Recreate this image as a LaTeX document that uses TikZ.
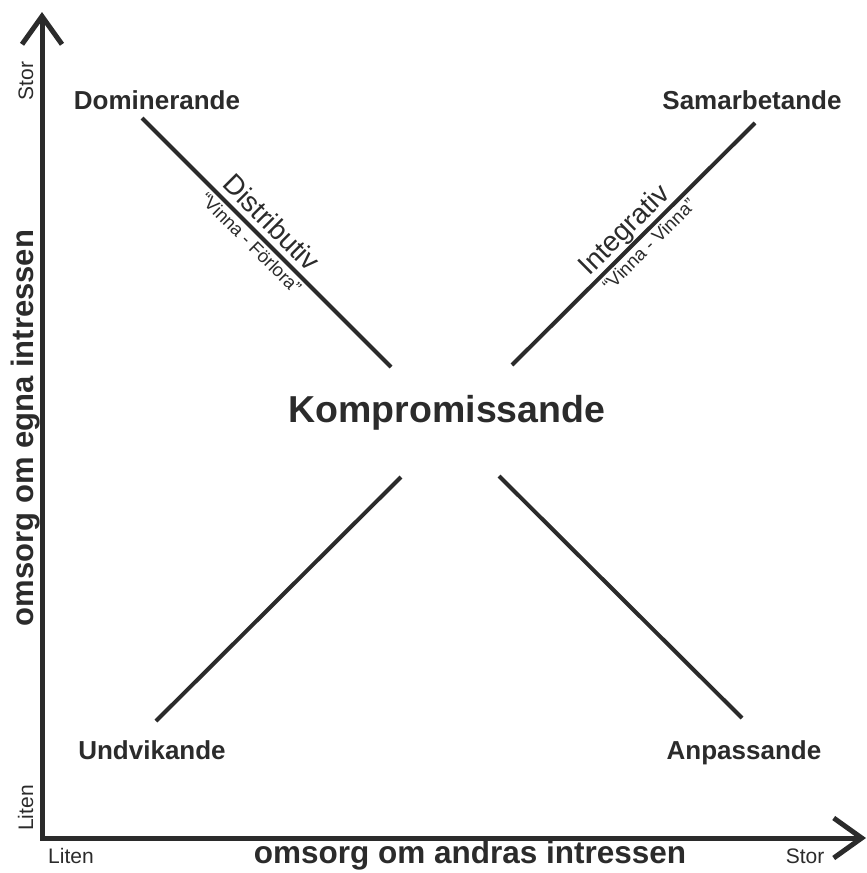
\documentclass[tikz,border=0pt]{standalone}
\usepackage{fontspec}
\setmainfont{Liberation Sans}
\usetikzlibrary{arrows.meta}
\definecolor{ink}{HTML}{2B2B2B}

\begin{document}
\begin{tikzpicture}[x=1pt, y=-1pt,
    every node/.style={inner sep=0pt, text=ink},
    corner/.style={anchor=base, font=\bfseries\fontsize{26}{31}\selectfont},
    axistitle/.style={anchor=base, font=\bfseries\fontsize{31.5}{38}\selectfont},
    scalelabel/.style={anchor=base, font=\fontsize{21}{25}\selectfont},
    kind/.style={sloped, above=6pt, text depth=0pt, font=\fontsize{28}{33}\selectfont},
    motto/.style={sloped, below=3pt, text height=13pt, font=\fontsize{18.5}{22}\selectfont},
    branch/.style={draw=ink, line width=4pt},
    axis/.style={draw=ink, line width=5pt, line join=miter, <->},
    >={Straight Barb[length=28pt,width=40pt]}]
    \useasboundingbox (0,0) rectangle (867,873);

    \coordinate (origin) at (42,838);
    \coordinate (ytip) at (42,12);
    \coordinate (xtip) at (866,838);
    \draw[axis] (ytip) -- (origin) -- (xtip);

    \node[scalelabel, rotate=90] (ystor) at (33,81) {Stor};
    \node[scalelabel, rotate=90] (yliten) at (33,808) {Liten};
    \node[axistitle, rotate=90, font=\bfseries\fontsize{31}{37}\selectfont] (ytitle) at (33,428) {omsorg om egna intressen};
    \node[scalelabel] (xliten) at (71,863) {Liten};
    \node[scalelabel] (xstor) at (805,863) {Stor};
    \node[axistitle] (xtitle) at (470,863) {omsorg om andras intressen};

    \node[corner] (dom) at (157,109) {Dominerande};
    \node[corner] (sam) at (752,109) {Samarbetande};
    \node[corner] (und) at (152,759) {Undvikande};
    \node[corner] (anp) at (744,759) {Anpassande};
    \node[anchor=base, font=\bfseries\fontsize{37.5}{44}\selectfont] (komp) at (447,422) {Kompromissande};

    \coordinate (domA) at (142,118);
    \coordinate (domB) at (391,367);
    \coordinate (samA) at (512,365);
    \coordinate (samB) at (755,123);
    \coordinate (undA) at (401,477);
    \coordinate (undB) at (156,721);
    \coordinate (anpA) at (499,476);
    \coordinate (anpB) at (742,718);

    \draw[branch] (domA) -- (domB)
        node[kind, pos=0.47] (distr) {Distributiv}
        node[motto, pos=0.47] (vf) {``Vinna - Förlora''};
    \draw[branch] (samA) -- (samB)
        node[kind, pos=0.51] (integ) {Integrativ}
        node[motto, pos=0.53] (vv) {``Vinna - Vinna''};
    \draw[branch] (undA) -- (undB);
    \draw[branch] (anpA) -- (anpB);
  \end{tikzpicture}
\end{document}
